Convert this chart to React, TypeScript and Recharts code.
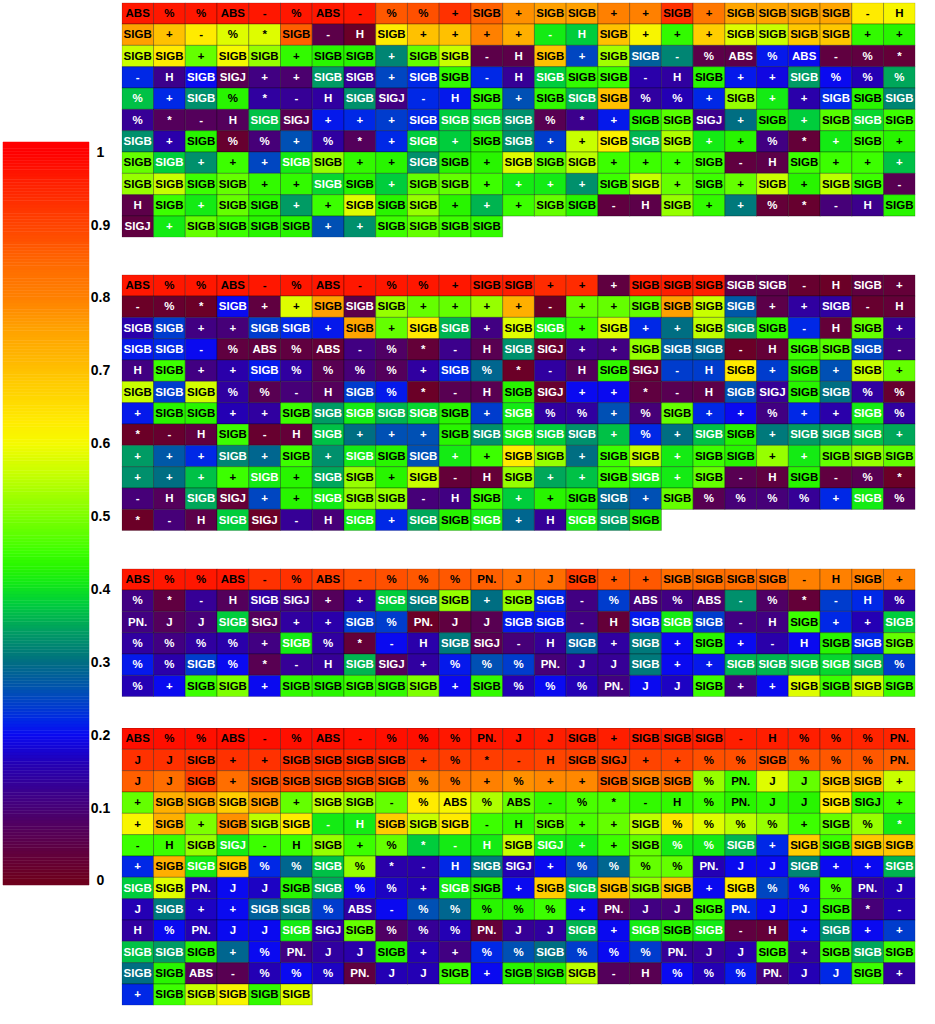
import React from 'react';
import { ScatterChart, Scatter, XAxis, YAxis, ComposedChart, ReferenceArea } from 'recharts';

// ---------- colour bar ----------
const cbTicks = [0, 0.1, 0.2, 0.3, 0.4, 0.5, 0.6, 0.7, 0.8, 0.9, 1];
const CB_MIN = -0.0062;
const CB_MAX = 1.0133;

// ---------- block 1 ----------
const block1Labels = [
  'ABS % % ABS - % ABS - % % + SIGB + SIGB SIGB + + SIGB + SIGB SIGB SIGB SIGB - H',
  'SIGB + - % * SIGB - H SIGB + + + + - H SIGB + + + SIGB SIGB SIGB SIGB + +',
  'SIGB SIGB + SIGB SIGB + SIGB SIGB + SIGB SIGB - H SIGB + SIGB SIGB - % ABS % ABS - % *',
  '- H SIGB SIGJ + + SIGB SIGB + SIGB SIGB - H SIGB SIGB SIGB - H SIGB + + SIGB % % %',
  '% + SIGB % * - H SIGB SIGJ - H SIGB + SIGB SIGB SIGB % % + SIGB + + SIGB SIGB SIGB',
  '% * - H SIGB SIGJ + + + SIGB SIGB SIGB SIGB % * + SIGB SIGB SIGJ + SIGB + SIGB SIGB SIGB',
  'SIGB + SIGB % % + % * + SIGB + SIGB SIGB + + SIGB SIGB SIGB + + % * + SIGB +',
  'SIGB SIGB + + + SIGB SIGB + + SIGB SIGB + SIGB SIGB SIGB + + + SIGB - H SIGB + + +',
  'SIGB SIGB SIGB SIGB + + SIGB SIGB + SIGB SIGB + + + + SIGB SIGB + SIGB + SIGB + SIGB SIGB -',
  'H SIGB + SIGB SIGB + + SIGB SIGB SIGB + + + SIGB SIGB - H SIGB + + % * - H SIGB',
  'SIGJ + SIGB SIGB SIGB SIGB + + SIGB SIGB SIGB SIGB',
];
const block1Values = [
  [0.97, 0.97, 0.97, 0.97, 0.97, 0.97, 0.97, 0.97, 0.87, 0.88, 0.93, 0.86, 0.78, 0.76, 0.76, 0.8, 0.8, 0.93, 0.82, 0.75, 0.75, 0.75, 0.75, 0.63, 0.61],
  [0.76, 0.7, 0.63, 0.58, 0.58, 0.86, 0.05, 0.01, 0.63, 0.7, 0.7, 0.8, 0.73, 0.41, 0.38, 0.7, 0.61, 0.44, 0.68, 0.58, 0.56, 0.69, 0.69, 0.44, 0.43],
  [0.56, 0.63, 0.48, 0.6, 0.52, 0.44, 0.43, 0.43, 0.32, 0.48, 0.56, 0.05, 0.05, 0.7, 0.25, 0.53, 0.28, 0.32, 0.05, 0.05, 0.21, 0.2, 0.04, 0.04, 0.03],
  [0.22, 0.12, 0.2, 0.06, 0.11, 0.09, 0.34, 0.13, 0.25, 0.22, 0.44, 0.22, 0.13, 0.38, 0.44, 0.45, 0.15, 0.14, 0.43, 0.21, 0.19, 0.34, 0.2, 0.16, 0.35],
  [0.37, 0.22, 0.33, 0.43, 0.14, 0.13, 0.14, 0.33, 0.11, 0.22, 0.21, 0.44, 0.26, 0.44, 0.36, 0.7, 0.14, 0.16, 0.22, 0.52, 0.41, 0.15, 0.22, 0.43, 0.32],
  [0.13, 0.07, 0.07, 0.07, 0.37, 0.06, 0.21, 0.22, 0.24, 0.22, 0.38, 0.38, 0.33, 0.06, 0.12, 0.21, 0.43, 0.47, 0.12, 0.3, 0.43, 0.38, 0.47, 0.39, 0.45],
  [0.33, 0.15, 0.43, 0.02, 0.1, 0.26, 0.14, 0.07, 0.22, 0.38, 0.38, 0.43, 0.33, 0.24, 0.56, 0.62, 0.36, 0.54, 0.41, 0.43, 0.11, 0.03, 0.41, 0.45, 0.43],
  [0.48, 0.38, 0.33, 0.45, 0.25, 0.41, 0.52, 0.44, 0.43, 0.33, 0.43, 0.43, 0.58, 0.48, 0.55, 0.45, 0.45, 0.45, 0.45, 0.04, 0.05, 0.45, 0.45, 0.45, 0.37],
  [0.52, 0.56, 0.45, 0.48, 0.44, 0.44, 0.39, 0.43, 0.38, 0.48, 0.48, 0.45, 0.41, 0.41, 0.33, 0.45, 0.56, 0.48, 0.45, 0.48, 0.56, 0.43, 0.55, 0.45, 0.06],
  [0.05, 0.45, 0.41, 0.48, 0.43, 0.34, 0.45, 0.58, 0.43, 0.52, 0.43, 0.36, 0.45, 0.48, 0.43, 0.04, 0.05, 0.52, 0.44, 0.31, 0.03, 0.02, 0.1, 0.12, 0.43],
  [0.04, 0.41, 0.48, 0.45, 0.43, 0.43, 0.26, 0.33, 0.45, 0.48, 0.45, 0.44],
];

// ---------- block 2 ----------
const block2Labels = [
  'ABS % % ABS - % ABS - % % + SIGB SIGB + + + SIGB SIGB SIGB SIGB SIGB - H SIGB +',
  '- % * SIGB + + SIGB SIGB SIGB + + + + - + + SIGB SIGB SIGB SIGB + + SIGB - H',
  'SIGB SIGB + + SIGB SIGB + SIGB + SIGB SIGB + SIGB SIGB + SIGB + + SIGB SIGB SIGB - H SIGB +',
  'SIGB SIGB - % ABS % ABS - % * - H SIGB SIGJ + + SIGB SIGB SIGB - H SIGB SIGB SIGB -',
  'H SIGB + + SIGB % % % % + SIGB % * - H SIGB SIGJ - H SIGB + SIGB + SIGB +',
  'SIGB SIGB SIGB % % - H SIGB % * - H SIGB SIGJ + + * - H SIGB SIGJ SIGB SIGB % %',
  '+ SIGB SIGB + + SIGB SIGB SIGB SIGB SIGB SIGB + SIGB % % + % SIGB + + % + + SIGB %',
  '* - H SIGB - H SIGB + + + SIGB SIGB SIGB SIGB SIGB + % + SIGB SIGB + SIGB SIGB SIGB +',
  '+ + + SIGB + SIGB + SIGB SIGB SIGB + + SIGB SIGB + SIGB SIGB + SIGB SIGB + + SIGB SIGB SIGB',
  '+ + + + SIGB + SIGB SIGB + SIGB - H SIGB + + SIGB SIGB + SIGB - H SIGB - % *',
  '- H SIGB SIGJ + + SIGB SIGB SIGB - H SIGB + + SIGB SIGB + SIGB % % % % + SIGB %',
  '* - H SIGB SIGJ - H SIGB + SIGB SIGB SIGB + H SIGB SIGB SIGB',
];
const block2Values = [
  [0.97, 0.97, 0.97, 0.97, 0.97, 0.97, 0.97, 0.97, 0.97, 0.97, 0.97, 0.96, 0.96, 0.94, 0.94, 0.04, 0.96, 0.96, 0.96, 0.05, 0.05, 0.02, 0.01, 0.04, 0.03],
  [0.01, 0.02, 0.01, 0.2, 0.04, 0.58, 0.76, 0.05, 0.52, 0.48, 0.48, 0.52, 0.73, 0.01, 0.48, 0.48, 0.48, 0.76, 0.56, 0.27, 0.05, 0.14, 0.14, 0.02, 0.03],
  [0.15, 0.24, 0.11, 0.1, 0.24, 0.22, 0.21, 0.75, 0.48, 0.63, 0.36, 0.11, 0.58, 0.41, 0.45, 0.58, 0.22, 0.3, 0.55, 0.33, 0.44, 0.22, 0.03, 0.48, 0.13],
  [0.21, 0.22, 0.2, 0.04, 0.04, 0.04, 0.03, 0.11, 0.08, 0.03, 0.12, 0.06, 0.33, 0.02, 0.12, 0.11, 0.52, 0.28, 0.29, 0.01, 0.03, 0.45, 0.47, 0.25, 0.11],
  [0.11, 0.45, 0.11, 0.15, 0.21, 0.14, 0.06, 0.1, 0.07, 0.14, 0.22, 0.29, 0.01, 0.14, 0.07, 0.44, 0.03, 0.24, 0.24, 0.63, 0.24, 0.43, 0.26, 0.56, 0.48],
  [0.56, 0.24, 0.57, 0.14, 0.06, 0.1, 0.07, 0.24, 0.21, 0.01, 0.06, 0.06, 0.43, 0.02, 0.2, 0.2, 0.04, 0.06, 0.05, 0.26, 0.13, 0.43, 0.3, 0.14, 0.02],
  [0.21, 0.43, 0.43, 0.16, 0.14, 0.45, 0.34, 0.41, 0.36, 0.39, 0.43, 0.24, 0.41, 0.14, 0.14, 0.26, 0.1, 0.48, 0.22, 0.2, 0.11, 0.22, 0.15, 0.41, 0.14],
  [0.01, 0.02, 0.04, 0.45, 0.02, 0.03, 0.37, 0.3, 0.26, 0.26, 0.43, 0.33, 0.41, 0.38, 0.33, 0.37, 0.22, 0.3, 0.37, 0.43, 0.31, 0.34, 0.34, 0.37, 0.35],
  [0.34, 0.27, 0.22, 0.32, 0.29, 0.45, 0.33, 0.41, 0.43, 0.26, 0.41, 0.45, 0.63, 0.52, 0.3, 0.45, 0.56, 0.41, 0.45, 0.43, 0.52, 0.41, 0.48, 0.52, 0.48],
  [0.33, 0.3, 0.37, 0.45, 0.41, 0.43, 0.35, 0.52, 0.43, 0.56, 0.03, 0.03, 0.52, 0.35, 0.37, 0.45, 0.41, 0.41, 0.48, 0.06, 0.04, 0.43, 0.04, 0.06, 0.01],
  [0.1, 0.07, 0.35, 0.03, 0.25, 0.43, 0.41, 0.52, 0.52, 0.1, 0.11, 0.45, 0.38, 0.43, 0.43, 0.29, 0.26, 0.48, 0.06, 0.1, 0.1, 0.13, 0.22, 0.41, 0.07],
  [0.01, 0.1, 0.05, 0.38, 0.01, 0.13, 0.1, 0.41, 0.22, 0.35, 0.43, 0.41, 0.29, 0.13, 0.41, 0.34, 0.43],
];

// ---------- block 3 ----------
const block3Labels = [
  'ABS % % ABS - % ABS - % % % PN. J J SIGB + + SIGB SIGB SIGB SIGB - H SIGB +',
  '% * - H SIGB SIGJ + + SIGB SIGB SIGB + SIGB SIGB - % ABS % ABS - % * - H %',
  'PN. J J SIGB SIGJ + + SIGB % PN. J J SIGB SIGB - H SIGB SIGB SIGB - H SIGB + + SIGB',
  '% % % % + SIGB % * - H SIGB SIGJ - H SIGB + SIGB + SIGB + - H SIGB SIGB SIGB',
  '% % SIGB % * - H SIGB SIGJ + % % % PN. J J SIGB + + SIGB SIGB SIGB SIGB SIGB %',
  '% + SIGB SIGB + SIGB SIGB SIGB SIGB SIGB + SIGB % % % PN. J J SIGB + + SIGB SIGB SIGB SIGB',
];
const block3Values = [
  [0.97, 0.97, 0.97, 0.97, 0.93, 0.93, 0.91, 0.89, 0.88, 0.87, 0.87, 0.86, 0.84, 0.84, 0.91, 0.87, 0.87, 0.84, 0.84, 0.84, 0.84, 0.8, 0.8, 0.8, 0.8],
  [0.11, 0.04, 0.13, 0.07, 0.14, 0.11, 0.07, 0.14, 0.38, 0.31, 0.52, 0.3, 0.52, 0.22, 0.11, 0.24, 0.1, 0.11, 0.09, 0.33, 0.08, 0.03, 0.24, 0.22, 0.14],
  [0.11, 0.07, 0.1, 0.38, 0.07, 0.14, 0.15, 0.24, 0.24, 0.01, 0.04, 0.06, 0.21, 0.21, 0.11, 0.03, 0.21, 0.41, 0.24, 0.11, 0.11, 0.45, 0.22, 0.16, 0.38],
  [0.14, 0.11, 0.14, 0.15, 0.11, 0.41, 0.14, 0.03, 0.2, 0.15, 0.31, 0.06, 0.1, 0.13, 0.28, 0.14, 0.31, 0.2, 0.43, 0.2, 0.15, 0.2, 0.43, 0.22, 0.48],
  [0.21, 0.15, 0.24, 0.2, 0.06, 0.13, 0.13, 0.36, 0.07, 0.14, 0.21, 0.26, 0.24, 0.1, 0.13, 0.13, 0.31, 0.2, 0.21, 0.36, 0.36, 0.37, 0.39, 0.36, 0.24],
  [0.16, 0.2, 0.45, 0.5, 0.2, 0.44, 0.43, 0.45, 0.44, 0.5, 0.2, 0.44, 0.16, 0.2, 0.16, 0.11, 0.2, 0.17, 0.45, 0.11, 0.2, 0.58, 0.45, 0.57, 0.45],
];

// ---------- block 4 ----------
const block4Labels = [
  'ABS % % ABS - % ABS - % % % PN. J J SIGB + SIGB SIGB SIGB - H % % % PN.',
  'J J SIGB + + SIGB SIGB SIGB SIGB + % * - H SIGB SIGJ + + % % SIGB % % % PN.',
  'J J SIGB + SIGB SIGB SIGB SIGB SIGB % % + % + + SIGB SIGB SIGB % PN. J J SIGB SIGB +',
  '+ SIGB SIGB SIGB SIGB + SIGB SIGB - % ABS % ABS - % * - H % PN. J J SIGB SIGJ +',
  '+ SIGB + SIGB SIGB SIGB - H SIGB SIGB SIGB - H SIGB + + SIGB % % % % + SIGB % *',
  '- H SIGB SIGJ - H SIGB + % * - H SIGB SIGJ + + SIGB % % SIGB + SIGB SIGB SIGB SIGB',
  '+ SIGB SIGB SIGB % % SIGB % * - H SIGB SIGJ + % % % % PN. J J SIGB + + SIGB',
  'SIGB SIGB PN. J J SIGB SIGB % % + SIGB SIGB + SIGB SIGB SIGB SIGB SIGB + SIGB % % % PN. J',
  'J SIGB + + SIGB SIGB % ABS - % % % % % + PN. J J SIGB PN. J J SIGB * -',
  'H % PN. J J SIGB SIGJ SIGB % % % PN. J J SIGB + SIGB SIGB SIGB - H + SIGB + +',
  'SIGB SIGB SIGB + % PN. J J SIGB + + % % SIGB % % % PN. J J SIGB + SIGB SIGB SIGB',
  'SIGB SIGB ABS - % % % PN. J J SIGB + SIGB SIGB SIGB - H % % % PN. J J SIGB +',
  '+ SIGB SIGB SIGB SIGB SIGB',
];
const block4Values = [
  [0.98, 0.98, 0.98, 0.98, 0.98, 0.98, 0.98, 0.98, 0.98, 0.98, 0.97, 0.97, 0.97, 0.96, 0.96, 0.96, 0.96, 0.96, 0.96, 0.96, 0.96, 0.96, 0.95, 0.95, 0.95],
  [0.93, 0.93, 0.93, 0.93, 0.93, 0.93, 0.93, 0.93, 0.93, 0.91, 0.91, 0.91, 0.91, 0.9, 0.9, 0.9, 0.9, 0.9, 0.88, 0.88, 0.88, 0.87, 0.87, 0.87, 0.86],
  [0.86, 0.84, 0.91, 0.84, 0.88, 0.88, 0.88, 0.88, 0.88, 0.8, 0.83, 0.8, 0.78, 0.79, 0.79, 0.86, 0.8, 0.83, 0.52, 0.45, 0.58, 0.48, 0.68, 0.7, 0.56],
  [0.48, 0.73, 0.75, 0.68, 0.76, 0.48, 0.55, 0.52, 0.48, 0.63, 0.61, 0.54, 0.48, 0.44, 0.46, 0.46, 0.44, 0.44, 0.45, 0.43, 0.44, 0.43, 0.63, 0.44, 0.45],
  [0.61, 0.73, 0.5, 0.78, 0.55, 0.63, 0.41, 0.41, 0.68, 0.56, 0.63, 0.45, 0.44, 0.48, 0.46, 0.48, 0.55, 0.64, 0.58, 0.55, 0.52, 0.45, 0.48, 0.52, 0.41],
  [0.45, 0.45, 0.52, 0.41, 0.45, 0.45, 0.52, 0.45, 0.48, 0.38, 0.41, 0.41, 0.56, 0.41, 0.41, 0.45, 0.48, 0.41, 0.41, 0.36, 0.22, 0.68, 0.45, 0.69, 0.69],
  [0.22, 0.73, 0.41, 0.69, 0.22, 0.29, 0.37, 0.52, 0.15, 0.15, 0.22, 0.31, 0.16, 0.2, 0.25, 0.29, 0.48, 0.48, 0.16, 0.2, 0.2, 0.32, 0.2, 0.2, 0.36],
  [0.38, 0.58, 0.16, 0.2, 0.17, 0.43, 0.35, 0.2, 0.17, 0.16, 0.41, 0.43, 0.2, 0.68, 0.37, 0.7, 0.52, 0.69, 0.2, 0.63, 0.25, 0.2, 0.46, 0.14, 0.16],
  [0.16, 0.31, 0.17, 0.2, 0.28, 0.31, 0.24, 0.14, 0.2, 0.26, 0.29, 0.43, 0.43, 0.45, 0.2, 0.07, 0.11, 0.1, 0.45, 0.22, 0.2, 0.2, 0.44, 0.1, 0.16],
  [0.14, 0.2, 0.16, 0.2, 0.2, 0.41, 0.14, 0.48, 0.08, 0.13, 0.16, 0.03, 0.13, 0.14, 0.36, 0.2, 0.41, 0.43, 0.41, 0.04, 0.03, 0.2, 0.33, 0.2, 0.24],
  [0.37, 0.34, 0.43, 0.29, 0.2, 0.11, 0.14, 0.15, 0.43, 0.16, 0.11, 0.22, 0.26, 0.3, 0.24, 0.2, 0.24, 0.13, 0.13, 0.15, 0.45, 0.14, 0.45, 0.35, 0.45],
  [0.3, 0.43, 0.07, 0.06, 0.16, 0.2, 0.17, 0.04, 0.16, 0.16, 0.45, 0.2, 0.43, 0.43, 0.55, 0.07, 0.06, 0.2, 0.16, 0.21, 0.1, 0.16, 0.22, 0.45, 0.14],
  [0.22, 0.45, 0.56, 0.61, 0.44, 0.58],
];

// ---------- colour map ----------
const STOPS: [number, number, number, number][] = [
  [0.0, 110, 0, 30],
  [0.04, 96, 0, 64],
  [0.08, 80, 0, 100],
  [0.12, 60, 0, 140],
  [0.16, 36, 0, 180],
  [0.2, 10, 10, 240],
  [0.22, 0, 40, 230],
  [0.26, 0, 80, 180],
  [0.3, 0, 110, 130],
  [0.34, 0, 155, 100],
  [0.38, 0, 205, 60],
  [0.41, 20, 235, 20],
  [0.43, 40, 245, 0],
  [0.45, 60, 255, 0],
  [0.48, 100, 255, 0],
  [0.52, 150, 255, 0],
  [0.56, 200, 255, 0],
  [0.6, 245, 250, 0],
  [0.63, 255, 235, 0],
  [0.68, 255, 205, 0],
  [0.73, 255, 175, 0],
  [0.76, 255, 160, 0],
  [0.8, 255, 128, 0],
  [0.84, 255, 110, 0],
  [0.88, 255, 80, 0],
  [0.92, 255, 55, 0],
  [0.96, 255, 30, 0],
  [1.0, 255, 0, 0],
];

function colorOf(v: number): string {
  const t = Math.max(0, Math.min(1, v));
  for (let i = 1; i < STOPS.length; i++) {
    const a = STOPS[i - 1];
    const b = STOPS[i];
    if (t <= b[0]) {
      const f = (t - a[0]) / (b[0] - a[0] || 1);
      const r = Math.round(a[1] + (b[1] - a[1]) * f);
      const g = Math.round(a[2] + (b[2] - a[2]) * f);
      const bl = Math.round(a[3] + (b[3] - a[3]) * f);
      return `rgb(${r},${g},${bl})`;
    }
  }
  return 'rgb(255,0,0)';
}

// ---------- layout ----------
const COLS = 25;
const ROW_H = 21.333;
const GRID_LEFT = 121.8;
const GRID_W = 793.5;
const CELL_W = GRID_W / COLS;
const PAGE_W = 935;
const FONT = "'Liberation Sans', Arial, Helvetica, sans-serif";

type CellDatum = { col: number; row: number; label: string; value: number };

function buildCells(labels: string[], values: number[][]): CellDatum[] {
  const out: CellDatum[] = [];
  labels.forEach((line, r) => {
    line.split(' ').forEach((label, c) => {
      out.push({ col: c + 0.5, row: r + 0.5, label, value: values[r][c] });
    });
  });
  return out;
}

const CellShape = (props: any) => {
  const { cx, cy } = props;
  const d: CellDatum = props.payload ?? props;
  if (cx == null || cy == null) return <g />;
  const fill = colorOf(d.value);
  const textFill = d.value < 0.42 ? '#ffffff' : '#000000';
  return (
    <g>
      <rect
        x={cx - CELL_W / 2}
        y={cy - ROW_H / 2}
        width={CELL_W}
        height={ROW_H}
        fill={fill}
        stroke="#000"
        strokeOpacity={0.3}
        strokeWidth={1}
      />
      <text
        x={cx}
        y={cy + 3.7}
        textAnchor="middle"
        fontFamily={FONT}
        fontWeight="bold"
        fontSize={11.5}
        fill={textFill}
      >
        {d.label}
      </text>
    </g>
  );
};

function Block({ top, labels, values }: { top: number; labels: string[]; values: number[][] }) {
  const rows = labels.length;
  const data = buildCells(labels, values);
  const h = rows * ROW_H;
  const totalH = Math.ceil(top + h + 4);
  return (
    <div style={{ position: 'absolute', left: 0, top: 0, pointerEvents: 'none' }}>
      <ScatterChart
        width={PAGE_W}
        height={totalH}
        margin={{ top, left: GRID_LEFT, right: PAGE_W - GRID_LEFT - GRID_W, bottom: totalH - top - h }}
      >
        <XAxis type="number" dataKey="col" domain={[0, COLS]} hide allowDataOverflow />
        <YAxis type="number" dataKey="row" domain={[0, rows]} reversed hide allowDataOverflow />
        <Scatter data={data} shape={CellShape} isAnimationActive={false} />
      </ScatterChart>
    </div>
  );
}

const BAND_COUNT = 240;
const bands = Array.from({ length: BAND_COUNT }, (_, i) => {
  const y1 = CB_MIN + ((CB_MAX - CB_MIN) * i) / BAND_COUNT;
  const y2 = CB_MIN + ((CB_MAX - CB_MIN) * (i + 1)) / BAND_COUNT;
  return { y1, y2, color: colorOf((y1 + y2) / 2) };
});

const CbTick = (props: any) => {
  const { x, y, payload } = props;
  return (
    <text
      x={x + 11.5}
      y={y + 5}
      textAnchor="middle"
      fontFamily={FONT}
      fontWeight="bold"
      fontSize={14}
      fill="#000"
    >
      {String(payload.value)}
    </text>
  );
};

function ColorBar() {
  return (
    <div style={{ position: 'absolute', left: 0, top: 0 }}>
      <ComposedChart width={130} height={1024} margin={{ top: 142, bottom: 139, left: 3, right: 0 }}>
        <XAxis type="number" dataKey="x" domain={[0, 1]} hide allowDataOverflow />
        <YAxis
          type="number"
          orientation="right"
          domain={[CB_MIN, CB_MAX]}
          ticks={cbTicks}
          allowDataOverflow
          width={41}
          axisLine={false}
          tickLine={false}
          tickSize={0}
          tickMargin={0}
          tick={CbTick}
          interval={0}
        />
        {bands.map((b, i) => (
          <ReferenceArea
            key={i}
            y1={b.y1}
            y2={b.y2}
            fill={b.color}
            fillOpacity={1}
            stroke={b.color}
            strokeWidth={0.5}
            ifOverflow="visible"
          />
        ))}
      </ComposedChart>
    </div>
  );
}

export default function App() {
  return (
    <div
      style={{
        position: 'absolute',
        left: 0,
        top: 0,
        width: PAGE_W,
        height: 1024,
        background: '#ffffff',
        overflow: 'hidden',
      }}
    >
      <ColorBar />
      <Block top={2.7} labels={block1Labels} values={block1Values} />
      <Block top={274.7} labels={block2Labels} values={block2Values} />
      <Block top={568.7} labels={block3Labels} values={block3Values} />
      <Block top={728} labels={block4Labels} values={block4Values} />
    </div>
  );
}
